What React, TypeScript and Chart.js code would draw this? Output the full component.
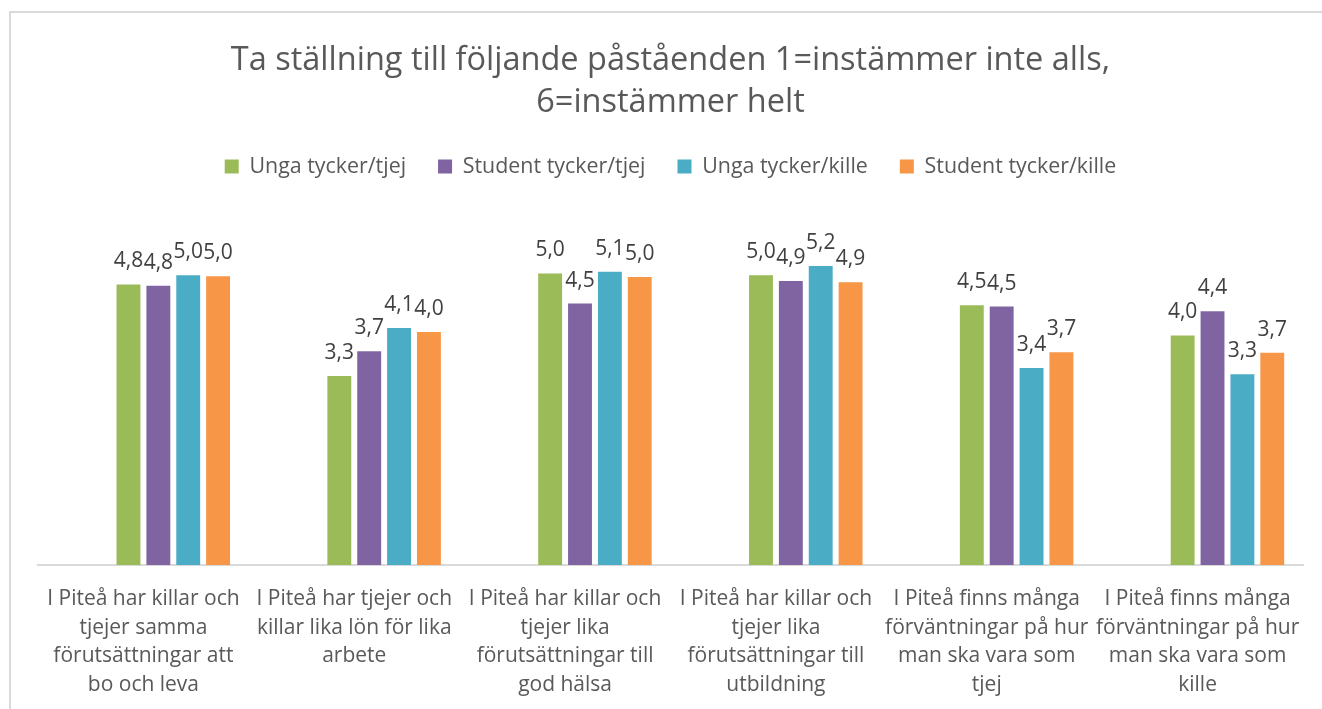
import { useEffect, useRef } from 'react';
import { Chart, registerables } from 'chart.js';

Chart.register(...registerables);

const titleLines = ['Ta ställning till följande påståenden 1=instämmer inte alls,', '6=instämmer helt'];

const categories = [
  ['I Piteå har killar och', 'tjejer samma', 'förutsättningar att', 'bo och leva'],
  ['I Piteå har tjejer och', 'killar lika lön för lika', 'arbete'],
  ['I Piteå har killar och', 'tjejer lika', 'förutsättningar till', 'god hälsa'],
  ['I Piteå har killar och', 'tjejer lika', 'förutsättningar till', 'utbildning'],
  ['I Piteå finns många', 'förväntningar på hur', 'man ska vara som', 'tjej'],
  ['I Piteå finns många', 'förväntningar på hur', 'man ska vara som', 'kille'],
];

const seriesNames = ['Unga tycker/tjej', 'Student tycker/tjej', 'Unga tycker/kille', 'Student tycker/kille'];
const seriesColors = ['#9BBB59', '#8064A2', '#4BACC6', '#F79646'];

// two empty series occupy the first two slots of each group in the original
const emptySeriesA = [null, null, null, null, null, null];
const emptySeriesB = [null, null, null, null, null, null];

const ungaTjej = [4.84, 3.26, 5.03, 5.0, 4.48, 3.96];
const studentTjej = [4.82, 3.69, 4.51, 4.9, 4.46, 4.38];
const ungaKille = [5.0, 4.09, 5.06, 5.16, 3.4, 3.29];
const studentKille = [4.98, 4.02, 4.97, 4.88, 3.67, 3.66];

const FONT = '"Open Sans", "DejaVu Sans", sans-serif';

const valueLabels = {
  id: 'valueLabels',
  afterDatasetsDraw(chart: any) {
    const ctx = chart.ctx;
    ctx.save();
    ctx.font = `21px ${FONT}`;
    ctx.fillStyle = '#404040';
    ctx.textAlign = 'center';
    ctx.textBaseline = 'alphabetic';
    chart.data.datasets.forEach((ds: any, i: number) => {
      const meta = chart.getDatasetMeta(i);
      meta.data.forEach((bar: any, j: number) => {
        const v = ds.data[j];
        if (v === null || v === undefined) return;
        ctx.fillText(v.toFixed(1).replace('.', ','), bar.x, bar.y - 17);
      });
    });
    ctx.restore();
  },
};

export default function App() {
  const ref = useRef<HTMLCanvasElement>(null);

  useEffect(() => {
    if (!ref.current) return;
    const values = [ungaTjej, studentTjej, ungaKille, studentKille];
    const chart = new Chart(ref.current, {
      type: 'bar',
      data: {
        labels: categories,
        datasets: [
          { label: '', data: emptySeriesA, backgroundColor: '#ffffff' },
          { label: '', data: emptySeriesB, backgroundColor: '#ffffff' },
          ...values.map((d, i) => ({
            label: seriesNames[i],
            data: d,
            backgroundColor: seriesColors[i],
            borderWidth: 0,
          })),
        ],
      },
      options: {
        responsive: false,
        devicePixelRatio: 1,
        animation: false,
        layout: { padding: { left: 38, right: 19, top: 0, bottom: 0 } },
        datasets: { bar: { categoryPercentage: 0.85, barPercentage: 0.8 } },
        plugins: {
          title: {
            display: true,
            text: titleLines,
            color: '#595959',
            font: { family: FONT, size: 32.5, weight: 'normal', lineHeight: 1.29 },
            padding: { top: 40, bottom: 0 },
          },
          subtitle: {
            display: true,
            text: '',
            position: 'top',
            weight: 500,
            font: { size: 10, lineHeight: 1 },
            padding: { top: 0, bottom: 20 },
          },
          legend: {
            position: 'top',
            labels: {
              color: '#595959',
              font: { family: FONT, size: 21.4 },
              boxWidth: 14,
              boxHeight: 14,
              padding: 32,
              filter: (item: any) => item.text !== '',
            },
          },
          tooltip: { enabled: false },
        },
        scales: {
          x: {
            grid: { display: false, drawTicks: false },
            border: { display: true, color: '#d9d9d9', width: 2 },
            ticks: {
              color: '#595959',
              font: { family: FONT, size: 21, lineHeight: 1.36 },
              padding: 20,
              maxRotation: 0,
              autoSkip: false,
            },
            afterFit: (scale: any) => {
              scale.height = 144;
            },
          },
          y: {
            display: false,
            min: 0,
            max: 6,
          },
        },
      },
      plugins: [valueLabels],
    });
    return () => chart.destroy();
  }, []);

  return (
    <div style={{ position: 'fixed', left: 0, top: 0, width: 1322, height: 709, background: '#ffffff', overflow: 'hidden' }}>
      <div
        style={{
          position: 'absolute',
          left: 9,
          top: 11,
          width: 1400,
          height: 800,
          borderLeft: '2px solid #d9d9d9',
          borderTop: '2px solid #d9d9d9',
        }}
      />
      <canvas ref={ref} width={1322} height={709} style={{ position: 'absolute', left: 0, top: 0 }} />
    </div>
  );
}
